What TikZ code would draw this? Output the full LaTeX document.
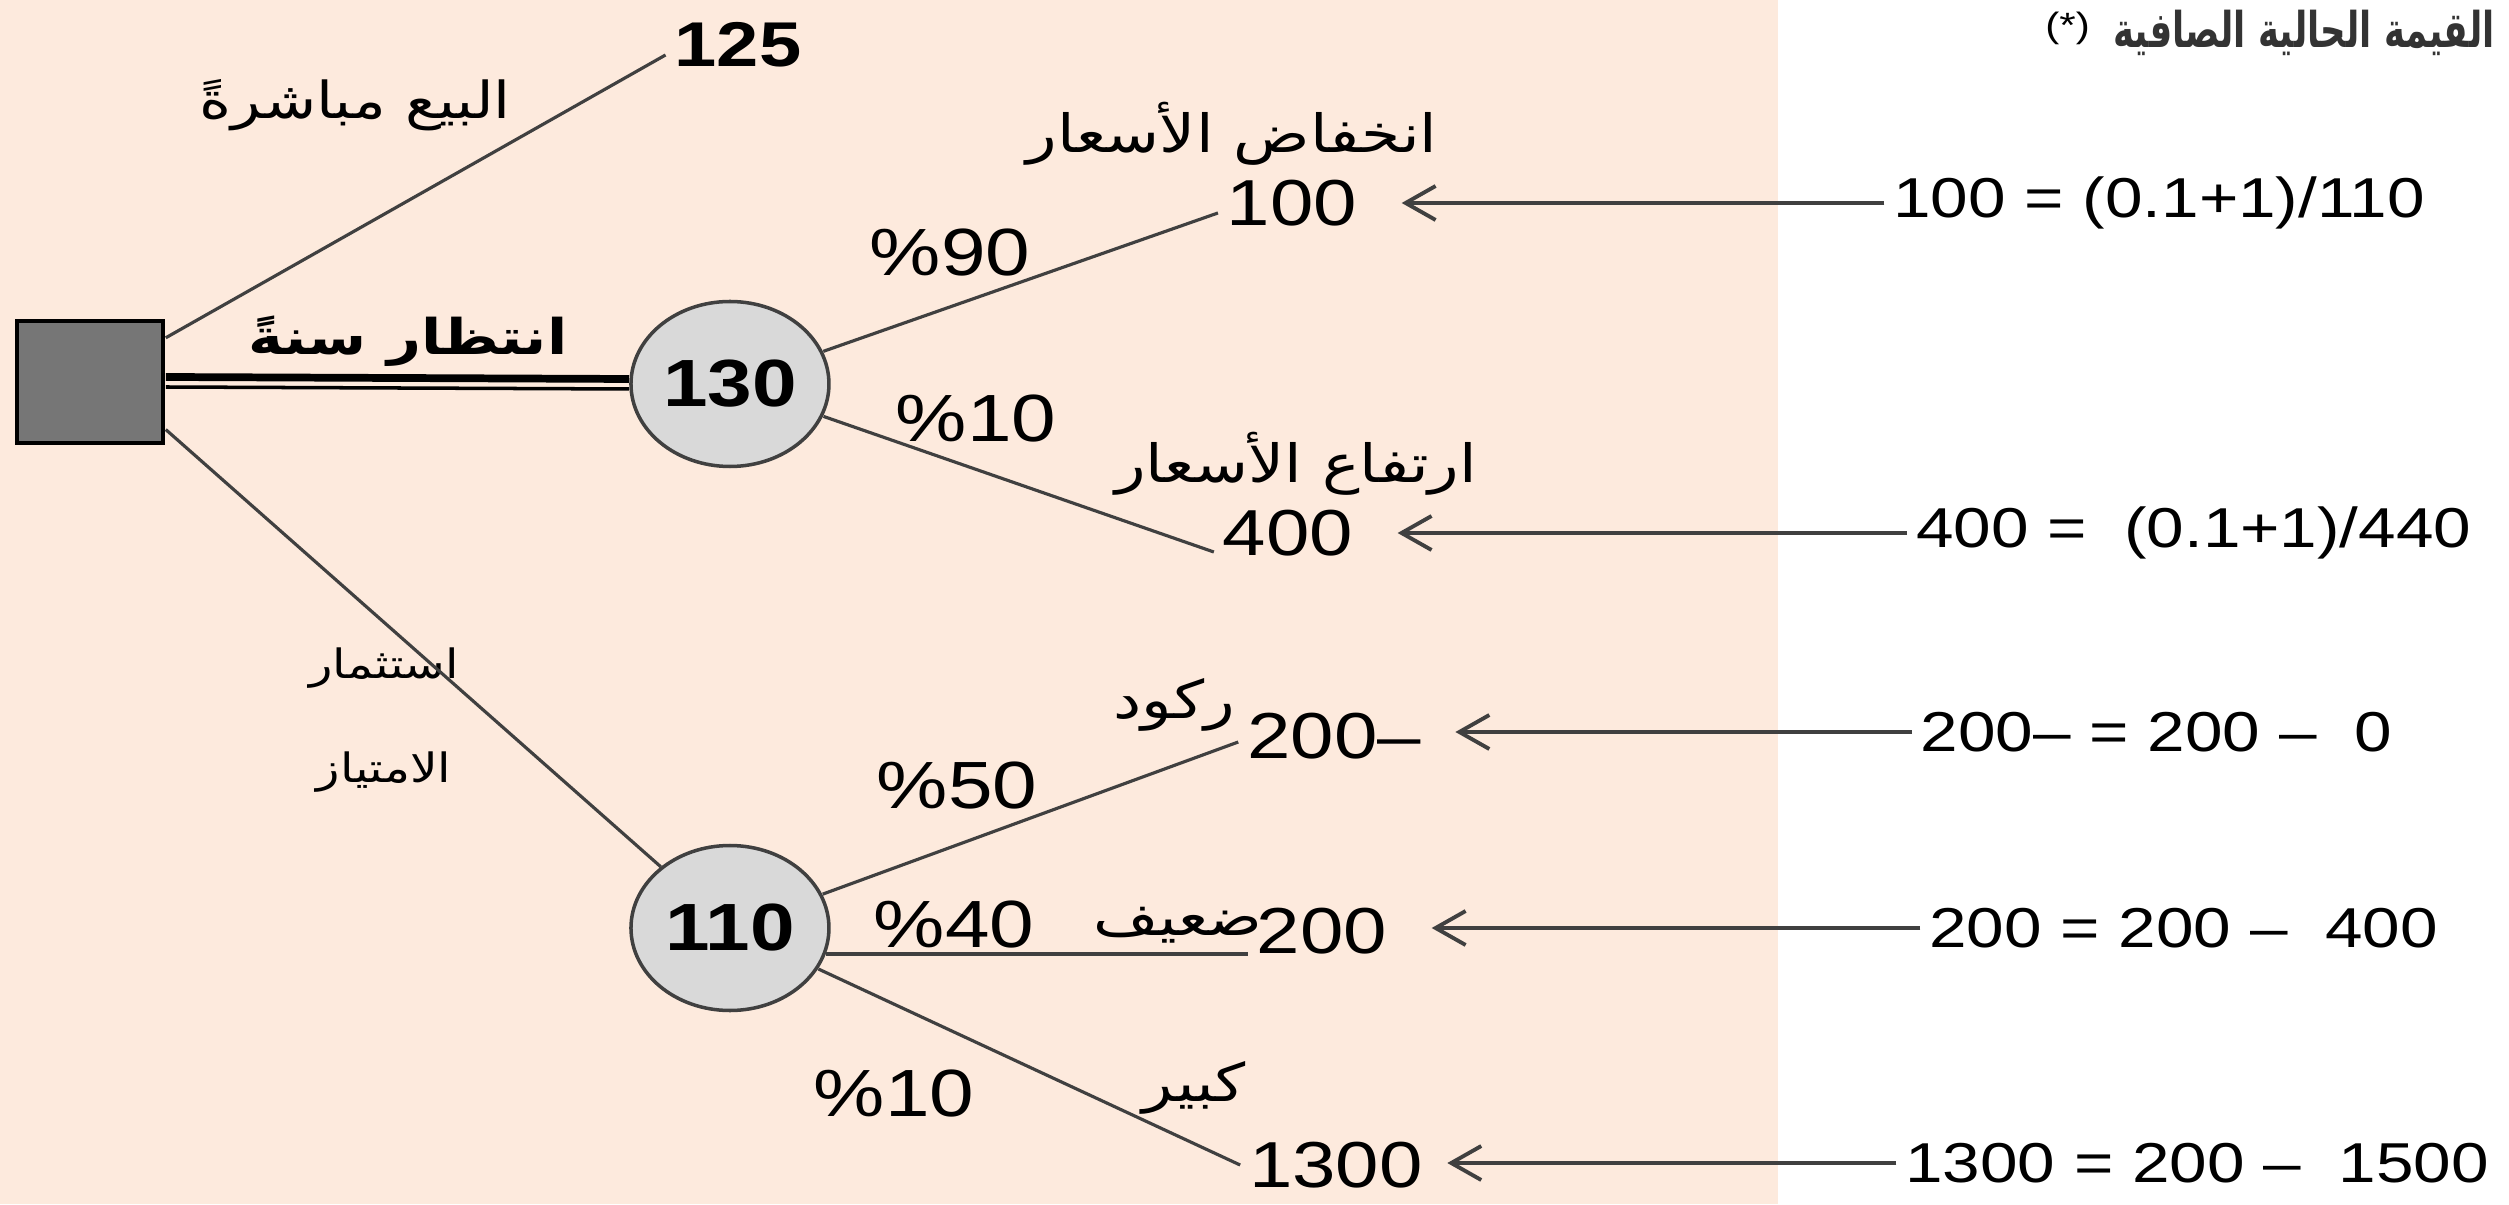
\documentclass[tikz,border=0pt]{standalone}
\usepackage{fontspec}
\setmainfont{Liberation Sans}
\newfontfamily\arabicfont[Script=Arabic]{DejaVu Sans}
\TeXXeTstate=1
\usetikzlibrary{arrows.meta,positioning,shapes.geometric}
\definecolor{peach}{RGB}{253,234,221}
\definecolor{boxgray}{RGB}{118,118,118}
\definecolor{chancegray}{RGB}{217,217,217}
\definecolor{linegray}{RGB}{64,64,64}
\tikzset{
    decision/.style={draw=black, line width=1.2pt, fill=boxgray, minimum size=1.22cm, inner sep=0pt},
    chance/.style={circle, draw=linegray, line width=1pt, fill=chancegray, minimum size=1.65cm, inner sep=0pt, font=\bfseries\fontsize{19}{22}\selectfont},
    value/.style={inner sep=2pt, font=\fontsize{18.5}{22}\selectfont},
    prob/.style={inner sep=1pt, font=\fontsize{19}{22}\selectfont},
    lbl/.style={inner sep=1pt, font=\arabicfont\fontsize{15}{18}\selectfont},
    calc/.style={anchor=west, inner sep=2pt, font=\fontsize{16}{19}\selectfont},
    branch/.style={draw=linegray, line width=0.9pt},
    back/.style={-{Straight Barb[length=3mm, width=3.4mm]}, draw=linegray, line width=1.1pt, shorten >=3.5mm}
}

\begin{document}
\begin{tikzpicture}[xscale=1.2, transform shape]
\useasboundingbox (0,0) rectangle (20.908,12.04);
\fill[white] (0,0) rectangle (20.908,12.04);
\fill[peach] (0,0) rectangle (14.817,12.04);

% decision and chance nodes
\node[decision] (sq) at (0.75,8.22) {};
\node[chance] (n130) at (6.083,8.20) {130};
\node[chance] (n110) at (6.083,2.76) {110};

% end values
\node[value, font=\bfseries\fontsize{18}{22}\selectfont] (v125) at (6.15,11.59) {125};
\node[value] (v100) at (10.767,10.01) {100};
\node[value] (v400) at (10.733,6.71) {400};
\node[value] (v200a) at (11.117,4.68) {200–};
\node[value] (v200b) at (11.017,2.73) {200};
\node[value] (v1300) at (11.133,0.39) {1300};

% branch labels
\node[lbl, font=\arabicfont\fontsize{14.5}{18}\selectfont] (sell) at (2.958,10.99) {\beginR البيع مباشرةً\endR};
\node[lbl, font=\arabicfont\bfseries\fontsize{14}{18}\selectfont] (wait) at (3.40,8.63) {\beginR انتظار سنةً\endR};
\node[lbl, font=\arabicfont\fontsize{11.5}{18}\selectfont] (inv1) at (3.20,5.36) {\beginR استثمار\endR};
\node[lbl, font=\arabicfont\fontsize{11.5}{18}\selectfont, below=0.55cm of inv1] (inv2) {\beginR الامتياز\endR};
\node[lbl] (down) at (10.267,10.70) {\beginR انخفاض الأسعار\endR};
\node[lbl] (up) at (10.80,7.40) {\beginR ارتفاع الأسعار\endR};
\node[lbl] (stag) at (9.783,4.99) {\beginR ركود\endR};
\node[lbl] (weak) at (9.817,2.79) {\beginR ضعيف\endR};
\node[lbl] (big) at (9.95,1.16) {\beginR كبير\endR};

% probabilities
\node[prob] (p90) at (7.917,9.51) {\%90};
\node[prob] (p10a) at (8.133,7.85) {\%10};
\node[prob] (p50) at (7.975,4.18) {\%50};
\node[prob] (p40) at (7.95,2.79) {\%40};
\node[prob] (p10b) at (7.45,1.11) {\%10};

% present values
\node[font=\arabicfont\bfseries\fontsize{14}{17}\selectfont, text=black!80, xscale=0.6] (head) at (19.2,11.71) {\beginR القيمة الحالية الصافية\endR};
\node[font=\fontsize{10}{12}\selectfont, left=0pt of head, yshift=0.5mm] (star) {(*)};
\node[calc] (pv100) at (15.70,10.01) {100 = (0.1+1)/110};
\node[calc] (pv400) at (15.89,6.71) {400 =\ \ (0.1+1)/440};
\node[calc] (pv200a) at (15.93,4.72) {200– = 200 –\ \ 0};
\node[calc] (pv200b) at (16.00,2.76) {200 = 200 –\ \ 400};
\node[calc] (pv1300) at (15.80,0.41) {1300 = 200 –\ \ 1500};

% branches
\draw[branch] (sq.35) -- ([yshift=-1mm]v125.west);
\draw[branch, draw=black, line width=2.2pt] ([yshift=0.5mm]sq.east) -- ([yshift=0.5mm]n130.west);
\draw[branch, draw=black, line width=1pt] ([yshift=-0.5mm]sq.east) -- ([yshift=-0.5mm]n130.west);
\draw[branch] (sq.-37) -- (n110);
\draw[branch] (n130) -- ([yshift=-1mm]v100.west);
\draw[branch] (n130) -- ([yshift=-1.9mm]v400.west);
\draw[branch] (n110) -- ([yshift=-0.6mm]v200a.west);
\draw[branch] (n110.-18) -- (n110.-18 -| v200b.west);
\draw[branch] (n110) -- (v1300.west);

% arrows back to the end values
\draw[back] (pv100.west) -- (pv100.west -| v100.east);
\draw[back] (pv400.west) -- (pv400.west -| v400.east);
\draw[back, shorten >=2.5mm] (pv200a.west) -- (pv200a.west -| v200a.east);
\draw[back] (pv200b.west) -- (pv200b.west -| v200b.east);
\draw[back, shorten >=1.5mm] (pv1300.west) -- (pv1300.west -| v1300.east);
\end{tikzpicture}
\end{document}
